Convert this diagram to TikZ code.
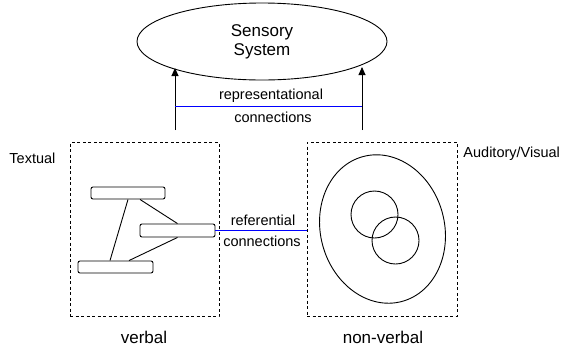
\documentclass[tikz,border=0pt]{standalone}
\usepackage{fontspec}
\setmainfont{Liberation Sans}
\usetikzlibrary{shapes.geometric,arrows.meta}
\begin{document}
\begin{tikzpicture}[x=1pt,y=-1pt,line width=0.9pt,
  small/.style={font=\fontsize{14.5}{17}\selectfont, inner sep=0pt},
  big/.style={font=\fontsize{17}{20}\selectfont, inner sep=0pt, align=center},
  dbox/.style={draw, dash pattern=on 3pt off 2.5pt, line width=0.9pt},
  wordbox/.style={draw, rounded corners=2pt, minimum width=74pt, minimum height=12pt, inner sep=0pt},
  link/.style={draw=blue, line width=0.8pt},
  arr/.style={-{Triangle[length=8pt,width=7pt]}}]
\useasboundingbox (0,0) rectangle (561,349);
% sensory system
\node[draw, ellipse, minimum width=250pt, minimum height=77pt, inner sep=0pt] (sens) at (262,41.5) {};
\node[big] (senst) at (262,42) {Sensory\\[-1pt]System};
% boxes
\node[dbox, minimum width=149pt, minimum height=174pt, inner sep=0pt] (vbox) at (144.5,229.5) {};
\node[dbox, minimum width=150pt, minimum height=174pt, inner sep=0pt] (nbox) at (382,229) {};
% labels
\node[small, anchor=west] (textual) at (9,158) {Textual};
\node[small, anchor=west] (audvis) at (463,154) {Auditory/Visual};
\node[big] (verbal) at (144,337) {verbal};
\node[big] (nonverbal) at (383,337) {non-verbal};
% arrows
\coordinate (la) at (175,130);
\coordinate (ra) at (362,130);
\coordinate (lt) at (175,68);
\coordinate (rt) at (362,67);
\draw[arr] (la) -- (lt);
\draw[arr] (ra) -- (rt);
\coordinate (lb) at (175,106);
\coordinate (rb) at (362,106);
\draw[link] (lb) -- (rb);
\node[small] (rep) at (271,96) {representational};
\node[small] (repc) at (273,117) {connections};
% word boxes
\node[wordbox] (w1) at (128,193) {};
\node[wordbox, minimum width=75pt, minimum height=13pt] (w2) at (177.5,230.5) {};
\node[wordbox, minimum width=75pt] (w3) at (115.5,267) {};
\draw (w1.south) -- (w3.north -| 110,0);
\draw (w1.south -| 140,0) -- (w2.north);
\draw (w2.south) -- (w3.north -| 129,0);
% referential
\draw[link] (w2.east) -- (nbox.west |- w2.east);
\node[small] (ref) at (263,220) {referential};
\node[small] (refc) at (262,241) {connections};
% non verbal ellipses
\draw[rotate around={15:(382.5,229)}] (382.5,229) ellipse [x radius=62, y radius=75];
\node[draw, circle, minimum size=47pt, inner sep=0pt] (c1) at (374.5,214.5) {};
\node[draw, circle, minimum size=47pt, inner sep=0pt] (c2) at (395.5,240.5) {};
\end{tikzpicture}
\end{document}
